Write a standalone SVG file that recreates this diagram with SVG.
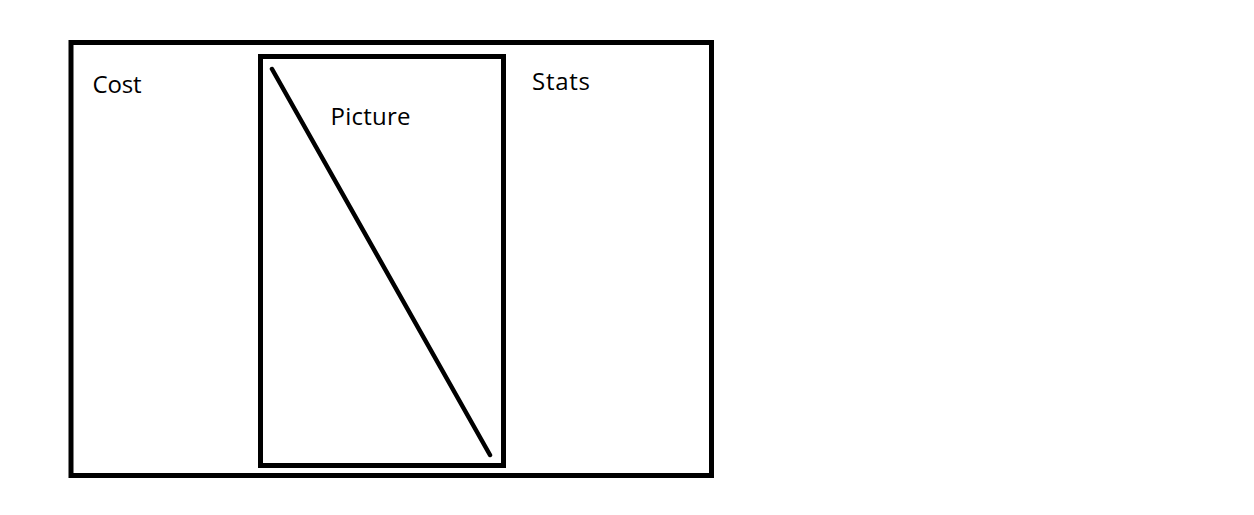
<svg xmlns="http://www.w3.org/2000/svg" width="1254" height="515" viewBox="0 0 1254 515">
  <style>
    .box { fill: none; stroke: #000; stroke-width: 5; }
    .lbl { font-family: "Open Sans", "Liberation Sans", sans-serif; font-size: 24px; fill: #000; }
  </style>
  <rect x="0" y="0" width="1254" height="515" fill="#fff"/>
  <g id="outer">
    <rect class="box" x="71" y="42.5" width="640.5" height="433"/>
    <text class="lbl" x="92.5" y="92.7" textLength="49" lengthAdjust="spacing">Cost</text>
    <text class="lbl" x="532" y="90" textLength="58" lengthAdjust="spacing">Stats</text>
  </g>
  <g id="picture">
    <rect class="box" x="260.5" y="56.5" width="243" height="409"/>
    <text class="lbl" x="330.5" y="125" textLength="80" lengthAdjust="spacing">Picture</text>
  </g>
  <g id="connectors">
    <line x1="272" y1="69" x2="490" y2="455" stroke="#000" stroke-width="4.5" stroke-linecap="round"/>
  </g>
</svg>
